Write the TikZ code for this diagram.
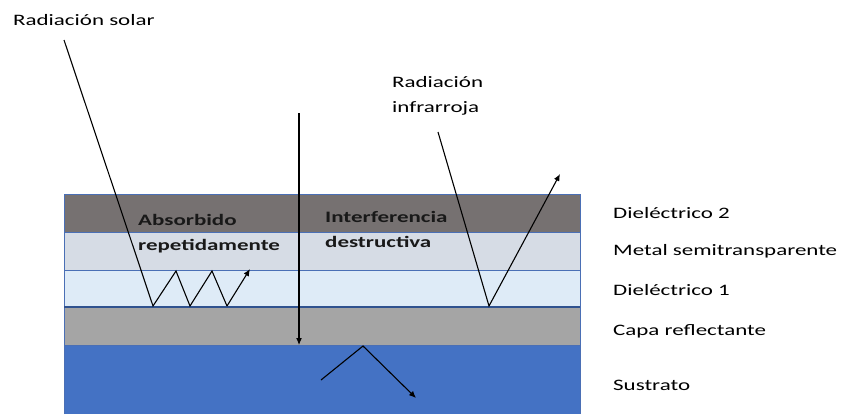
\documentclass[tikz,border=0pt]{standalone}
\usepackage{fontspec}
\setmainfont{Carlito}[FakeStretch=1.44]
\usetikzlibrary{arrows.meta}
\definecolor{diel2}{HTML}{767171}
\definecolor{metal}{HTML}{D6DCE5}
\definecolor{diel1}{HTML}{DEEBF7}
\definecolor{capa}{HTML}{A5A5A5}
\definecolor{sust}{HTML}{4472C4}
\definecolor{edge}{HTML}{4A6FB5}
\definecolor{edgedark}{HTML}{2F528F}
\tikzset{
  layer/.style={draw=edge, line width=0.9pt},
  ray/.style={line width=1.1pt, black},
  rayarrow/.style={ray, -{Latex[length=7pt,width=6pt]}},
  lbl/.style={font=\fontsize{16}{18}\selectfont, anchor=base west, inner sep=0pt, text=black},
  blbl/.style={font=\fontsize{16}{18}\selectfont\bfseries, anchor=base west, inner sep=0pt, text=black!90}
}
\begin{document}
\begin{tikzpicture}[x=1bp,y=-1bp]
\useasboundingbox (0,0) rectangle (841,414);
% layers
\fill[sust] (64,345) rectangle (580,414);
\draw[layer] (64,414) -- (64,345) -- (580,345) -- (580,414);
\filldraw[layer, fill=capa] (64,307) rectangle (580,345);
\filldraw[layer, fill=diel1] (64,270) rectangle (580,307);
\filldraw[layer, fill=metal] (64,232) rectangle (580,270);
\filldraw[layer, fill=diel2] (64,194) rectangle (580,232);
\draw[edgedark, line width=1.8pt] (64,307) -- (580,307);
% labels on layers
\node[blbl] (abs1) at (138,225) {Absorbido};
\node[blbl] (abs2) at (138,250) {repetidamente};
\node[blbl] (int1) at (325,222) {Interferencia};
\node[blbl] (int2) at (325,247) {destructiva};
% right labels
\node[lbl] (l1) at (613,218) {Dieléctrico 2};
\node[lbl] (l2) at (613,255) {Metal semitransparente};
\node[lbl] (l3) at (613,295) {Dieléctrico 1};
\node[lbl] (l4) at (613,335) {Capa reflectante};
\node[lbl] (l5) at (613,390) {Sustrato};
% top labels
\node[lbl] (sol) at (13,25) {Radiación solar};
\node[lbl] (ir1) at (392,87) {Radiación};
\node[lbl] (ir2) at (392,112) {infrarroja};
% solar ray
\coordinate (s0) at (64,40);
\coordinate (s1) at (153,306);
\coordinate (s2) at (176,271);
\coordinate (s3) at (190,306);
\coordinate (s4) at (212,271);
\coordinate (s5) at (227,306);
\coordinate (s6) at (250,269);
\draw[ray, line join=miter] (s0) -- (s1) -- (s2) -- (s3) -- (s4) -- (s5);
\draw[rayarrow] (s5) -- (s6);
% vertical ray
\coordinate (v0) at (299,113);
\coordinate (v1) at (299,345);
\draw[rayarrow] (v0) -- (v1);
% substrate reflection
\coordinate (b0) at (321,380);
\coordinate (b1) at (363,346);
\coordinate (b2) at (416,398);
\draw[rayarrow] (b0) -- (b1) -- (b2);
% infrared
\coordinate (i0) at (438,132);
\coordinate (i1) at (489,306);
\coordinate (i2) at (560,174);
\draw[rayarrow] (i0) -- (i1) -- (i2);
\end{tikzpicture}
\end{document}
